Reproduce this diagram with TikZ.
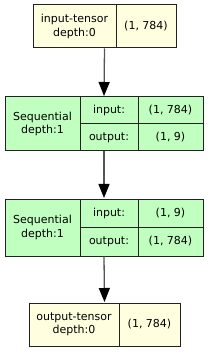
\documentclass[tikz,border=0pt]{standalone}
\usepackage{fontspec}
\setmainfont{DejaVu Sans}
\usetikzlibrary{arrows.meta}
\definecolor{tensorfill}{HTML}{FFFFE0}
\definecolor{modfill}{HTML}{C1FFC1}
\definecolor{edgecol}{HTML}{222222}
\definecolor{arrcol}{HTML}{555555}
\tikzset{
  box/.style={draw=edgecol, line width=1pt, inner sep=0pt},
  txt/.style={inner sep=0pt, align=center, font=\fontsize{11}{13.5}\selectfont},
  divider/.style={draw=edgecol, line width=1pt},
  arr/.style={draw=arrcol, line width=1.3pt, -{Triangle[length=14pt,width=11pt,color=black,fill=black]}, shorten >=0.5pt}
}
\begin{document}
\begin{tikzpicture}[x=1pt,y=-1pt]
\useasboundingbox (0,0) rectangle (208,352);
% box 1
\node[box, fill=tensorfill, minimum width=143pt, minimum height=43pt] (in) at (104.5,26.5) {};
\node[txt] (inl) at (74.5,26.5) {input-tensor\\depth:0};
\node[txt] (inr) at (146,26.5) {(1, 784)};
\draw[divider] (116,5) -- (116,48);
% box 2
\node[box, fill=modfill, minimum width=198pt, minimum height=54pt] (s1) at (104,124) {};
\node[txt] (s1l) at (42.5,124) {Sequential\\depth:1};
\node[txt] (s1a) at (109,110.5) {input:};
\node[txt] (s1b) at (109,137.5) {output:};
\node[txt] (s1c) at (170.5,110.5) {(1, 784)};
\node[txt] (s1d) at (170.5,137.5) {(1, 9)};
\draw[divider] (80,97) -- (80,151);
\draw[divider] (138,97) -- (138,151);
\draw[divider] (80,124) -- (203,124);
% box 3
\node[box, fill=modfill, minimum width=198pt, minimum height=57pt] (s2) at (104,227.5) {};
\node[txt] (s2l) at (42.5,227.5) {Sequential\\depth:1};
\node[txt] (s2a) at (109,213) {input:};
\node[txt] (s2b) at (109,241.5) {output:};
\node[txt] (s2c) at (170.5,213) {(1, 9)};
\node[txt] (s2d) at (170.5,241.5) {(1, 784)};
\draw[divider] (80,199) -- (80,256);
\draw[divider] (138,199) -- (138,256);
\draw[divider] (80,227) -- (203,227);
% box 4
\node[box, fill=tensorfill, minimum width=151pt, minimum height=43pt] (out) at (104.5,324.5) {};
\node[txt] (outl) at (74,324.5) {output-tensor\\depth:0};
\node[txt] (outr) at (149.5,324.5) {(1, 784)};
\draw[divider] (119,303) -- (119,346);
% arrows
\draw[arr] (in.south) -- (s1.north);
\draw[arr] (s1.south) -- (s2.north);
\draw[arr] (s2.south) -- (out.north);
\end{tikzpicture}
\end{document}
